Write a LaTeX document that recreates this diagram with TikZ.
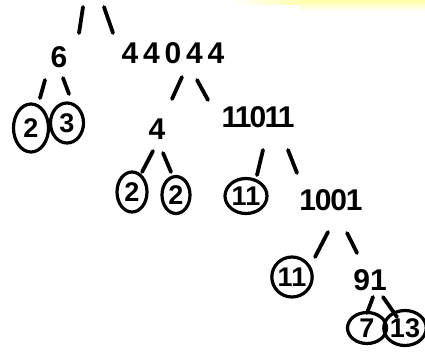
\documentclass[tikz,border=0pt]{standalone}
\usepackage{fontspec}
\setmainfont{Liberation Sans}
\usetikzlibrary{shapes.geometric}
\begin{document}
\begin{tikzpicture}[x=1pt,y=-1pt,
  num/.style={font=\fontsize{30}{30}\selectfont\bfseries, inner sep=0pt},
  leaf/.style={ellipse, draw, line width=3.2pt, inner sep=0pt, font=\fontsize{27}{27}\selectfont\bfseries},
  branch/.style={line width=3.8pt, line cap=round}]
\useasboundingbox (0,0) rectangle (425,354);
\shade[left color=white, right color=yellow!90] (232,0) rectangle (425,4);
\shade[top color=yellow!35, bottom color=white] (300,0) rectangle (425,12);
% numbers
\node[num] (n6) at (59,57) {6};
\node[num] (n44044) at (173,53) {\addfontfeature{LetterSpace=16}44044};
\node[num] (n4) at (157,129) {4};
\node[num] (n11011) at (258,117) {\addfontfeature{LetterSpace=-6}11011};
\node[num] (n1001) at (331,200) {\addfontfeature{LetterSpace=-4}1001};
\node[num] (n91) at (370,280) {91};
% leaves
\node[leaf, minimum width=35pt, minimum height=48pt] (c2a) at (31,128) {2};
\node[leaf, minimum width=33pt, minimum height=40pt] (c3) at (67,123) {3};
\node[leaf, minimum width=30pt, minimum height=40pt] (c2b) at (132,192) {2};
\node[leaf, minimum width=28pt, minimum height=37pt] (c2c) at (176,195) {2};
\node[leaf, minimum width=42pt, minimum height=35pt] (c11a) at (246,196) {11};
\node[leaf, minimum width=39pt, minimum height=40pt] (c11b) at (292,277) {11};
\node[leaf, minimum width=39pt, minimum height=31pt] (c7) at (367,328) {7};
\node[leaf, minimum width=40pt, minimum height=35pt] (c13) at (405,328) {13};
% stroke ends
\coordinate (tla) at (83,7);   \coordinate (tlb) at (79,33);
\coordinate (tra) at (104,7);  \coordinate (trb) at (113,33);
\coordinate (sla) at (45,80);  \coordinate (slb) at (40,98);
\coordinate (sra) at (63,78);  \coordinate (srb) at (69,94);
\coordinate (fla) at (182,77); \coordinate (flb) at (172,99);
\coordinate (fra) at (197,80); \coordinate (frb) at (208,100);
\coordinate (ula) at (153,151); \coordinate (ulb) at (142,172);
\coordinate (ura) at (163,153); \coordinate (urb) at (171,172);
\coordinate (ela) at (263,150); \coordinate (elb) at (257,175);
\coordinate (era) at (288,150); \coordinate (erb) at (297,173);
\coordinate (ola) at (328,232); \coordinate (olb) at (315,257);
\coordinate (ora) at (347,233); \coordinate (orb) at (357,253);
\coordinate (nla) at (373,297); \coordinate (nlb) at (367,313);
\coordinate (nra) at (383,297); \coordinate (nrb) at (397,317);
\foreach \a/\b in {tla/tlb,tra/trb,sla/slb,sra/srb,fla/flb,fra/frb,ula/ulb,ura/urb,ela/elb,era/erb,ola/olb,ora/orb,nla/nlb,nra/nrb}
  \draw[branch] (\a) -- (\b);
\end{tikzpicture}
\end{document}
